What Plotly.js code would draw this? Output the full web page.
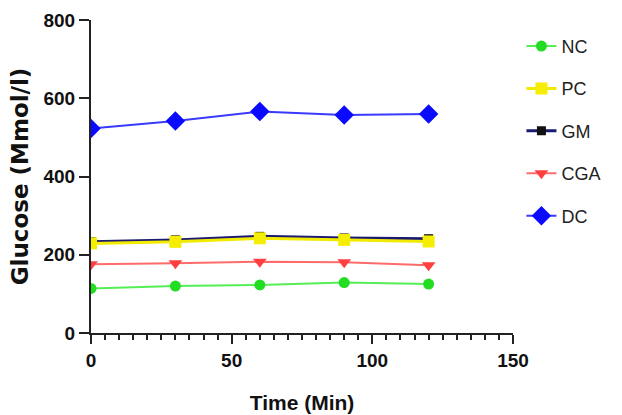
<!DOCTYPE html>
<html>
<head>
<meta charset="utf-8">
<script src="https://cdn.plot.ly/plotly-3.0.1.min.js"></script>
<style>
  html, body { margin: 0; padding: 0; background: #fff; }
  #chart { width: 622px; height: 415px; }
</style>
</head>
<body>
<div id="chart"></div>
<script>
// Blood glucose over time for each group
const timeMin = [0, 30, 60, 90, 120];
const groupNames = ["NC", "PC", "GM", "CGA", "DC"];
const ncValues  = [114, 120, 123, 129, 125];
const pcValues  = [229, 233, 242, 238, 234];
const gmValues  = [233, 238, 247, 243, 241];
const cgaValues = [176, 178, 182, 181, 173];
const dcValues  = [523, 542, 566, 557, 560];

const xMax = 150;
const xTickStep = 50;
const xMinorStep = 5;
const yTickStep = 200;

const styles = {
  NC:  { line: "#55ee55", marker: "#22dd22", symbol: "circle", size: 11, width: 2 },
  PC:  { line: "#f2ea00", marker: "#f5ee00", symbol: "square", size: 12, width: 3 },
  GM:  { line: "#1a1a70", marker: "#111111", symbol: "square", size: 9, width: 3 },
  CGA: { line: "#ff6b6b", marker: "#ff4040", symbol: "triangle-down", size: 12, width: 2 },
  DC:  { line: "#3a3aff", marker: "#0a0aff", symbol: "diamond", size: 15, width: 2 }
};

const seriesValues = { NC: ncValues, PC: pcValues, GM: gmValues, CGA: cgaValues, DC: dcValues };

// GM is drawn beneath PC so the yellow squares sit on top
const drawOrder = ["NC", "GM", "PC", "CGA", "DC"];

const traces = drawOrder.map(name => {
  const s = styles[name];
  return {
    x: timeMin,
    y: seriesValues[name],
    name: name,
    legendgroup: name,
    legendrank: groupNames.indexOf(name) + 1,
    type: "scatter",
    mode: "lines+markers",
    line: { color: s.line, width: s.width },
    marker: { color: s.marker, symbol: s.symbol, size: s.size }
  };
});

const layout = {
  width: 622,
  height: 415,
  margin: { l: 91, r: 109, t: 20, b: 82 },
  showlegend: true,
  legend: {
    x: 1.02, xanchor: "left",
    y: 0.975, yanchor: "top",
    traceorder: "grouped",
    tracegroupgap: 16,
    font: { family: "Liberation Sans, Arial, sans-serif", size: 18, color: "#222" }
  },
  xaxis: {
    range: [0, xMax],
    dtick: xTickStep,
    showgrid: false,
    zeroline: false,
    showline: true,
    linecolor: "#222",
    linewidth: 2,
    ticks: "outside",
    ticklen: 9,
    tickwidth: 2,
    tickcolor: "#222",
    tickfont: { family: "Liberation Sans, Arial, sans-serif", size: 19, color: "#111", weight: "bold" },
    // short minor ticks every 5 minutes
    minor: { dtick: xMinorStep, ticks: "outside", ticklen: 5, tickwidth: 2, tickcolor: "#222" },
    title: { text: "<b>Time (Min)</b>", font: { family: "Liberation Sans, Arial, sans-serif", size: 21, color: "#111" }, standoff: 26 }
  },
  yaxis: {
    range: [0, 800],
    dtick: yTickStep,
    showgrid: false,
    zeroline: false,
    showline: true,
    linecolor: "#222",
    linewidth: 2,
    ticks: "outside",
    ticklen: 10,
    tickwidth: 2,
    tickcolor: "#222",
    tickfont: { family: "Liberation Sans, Arial, sans-serif", size: 19, color: "#111", weight: "bold" },
    title: { text: "<b>Glucose (Mmol/l)</b>", font: { family: "DejaVu Sans, sans-serif", size: 23, color: "#111" }, standoff: 8 }
  }
};

Plotly.newPlot("chart", traces, layout, { staticPlot: true });
</script>
</body>
</html>
